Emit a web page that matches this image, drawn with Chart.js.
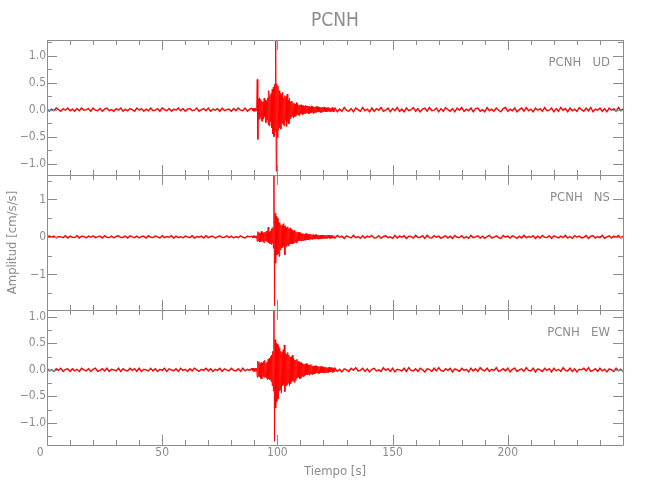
<!DOCTYPE html>
<html>
<head>
<meta charset="utf-8">
<title>PCNH</title>
<script src="https://cdn.jsdelivr.net/npm/chart.js@4/dist/chart.umd.min.js"></script>
<style>
  html, body { margin: 0; background: #fff; }
  canvas { display: block; }
</style>
</head>
<body>
<canvas id="chart" width="650" height="500"></canvas>
<script>
const station = 'PCNH';
const channels = ['UD', 'NS', 'EW'];

// sampling of the traces (s): 1 s outside the event window, 0.25 s inside it
const quietStep = 1;
const eventStep = 0.25;
const eventStart = 89;
const postStart = 125;

// amplitudes, in 1/100 cm/s/s
// UD
const udPre = [2,-3,1,-2,3,0,-3,2,-1,3, -2,1,-3,2,-2,3,-1,0,2,-3, 3,-1,-2,2,-3,1,3,-2,0,-3, 2,-1,3,-3,1,-2,2,0,-3,3,
  -1,2,-3,1,-2,3,-2,-1,2,-3, 3,0,-2,2,-3,1,-1,3,-2,2, -3,1,2,-2,-1,3,-3,0,2,-2, 3,-3,1,-1,2,-3,3,-2,0,1, -3,2,-2,3,-1,-2,3,-3,1];
const udEvent = [3,-2,2,-3, 2,-3,3,-2, 3,56,-55,20, -18,22,-15,19, -20,16,-22,14, -17,21,-13,18, -24,15,-19,22,
  -28,35,-30,26, -22,30,-33,38, -45,42,-50,47, -40,135,-114,48, -52,44,-38,35, -33,30,-36,28, -25,32,-28,22,
  -30,26,-20,24, -31,29,-22,18, -26,21,-17,15, -14,16,-12,13, -15,11,-13,10, -12,13,-9,11, -10,8,-11,9,
  -8,9,-7,8, -9,7,-8,6, -7,8,-6,7, -6,7,-8,6, -7,5,-6,7, -5,6,-7,5, -6,5,-5,6, -5,6,-4,5, -4,5,-5,4,
  -5,4,-4,5, -4,5,-3,4, -4,3,-4,4, -3,4,-3,3, -4,3,-3,4, -3,3,-4,3];
const udPost = [3,-4,1,-3,4,-1,-3,2,-4,3, 0,-3,4,-2,1,-4,3,-3,2,-1, 4,-3,-1,3,-4,2,-2,4,-3,1, -4,3,-2,0,4,-3,2,-4,1,3,
  -3,4,-2,-1,3,-4,2,-3,4,0, -3,2,-4,3,-1,4,-3,1,-2,3, -4,2,3,-3,0,-4,4,-2,1,-3, 3,-1,-4,2,4,-3,1,-2,3,-4,
  0,3,-3,4,-2,1,-4,3,-1,2, -3,4,-2,-1,3,-4,2,-3,4,-1, 2,-4,3,-2,1,-3,4,0,-3,3, -2,4,-4,1,-1,3,-3,2,-4,3, -1,2,-3,4,-2,1];
// NS
const nsPre = [-2,3,-1,2,-3,1,0,-2,3,-3, 2,-1,-2,3,-3,2,1,-3,2,-1, 3,-2,0,2,-3,3,-1,-2,2,-3, 1,3,-2,-1,2,-3,3,0,-2,2,
  -3,1,2,-3,3,-1,-2,2,0,-3, 3,-2,1,-1,3,-3,2,-2,1,-3, 2,0,-2,3,-3,1,-1,2,-3,3, -2,1,2,-3,0,3,-2,-1,3,-2, 2,-3,1,-2,3,-1,-3,2,0];
const nsEvent = [2,-3,3,-2, 3,-2,2,-3, 3,-12,14,-10, 12,-14,10,-13, 15,-11,13,-14, 11,-15,12,-10, 14,-12,16,-13,
  26,-15,13,-18, 16,-20,22,-17, 25,-30,166,-184, 63,-70,55,-48, 50,-45,40,-52, 38,-35,32,-30, 30,-28,35,-25,
  28,-48,30,-26, 25,-22,27,-24, 22,-20,24,-18, 20,-18,17,-19, 16,-15,18,-14, 14,-16,12,-13, 12,-11,13,-10,
  10,-11,9,-10, 9,-10,8,-9, 8,-9,9,-7, 7,-8,6,-8, 8,-6,7,-6, 6,-7,6,-5, 5,-6,6,-5, 6,-5,5,-6, 5,-5,4,-5,
  4,-5,5,-4, 5,-4,4,-4, 4,-4,5,-4, 4,-3,4,-4, 3,-4,4,-3, 4,-3,3,-4];
const nsPost = [-3,4,-1,2,-4,3,0,-3,4,-2, 1,-4,3,-3,2,-1,4,-3,-2,3, -4,1,3,-2,0,-4,4,-3,2,-1, 3,-4,2,1,-3,4,-2,-1,3,-4,
  4,-2,-3,3,-1,2,-4,0,3,-3, 2,-4,4,-1,-2,3,-3,1,-4,4, -2,0,3,-3,2,-4,1,4,-3,-1, 3,-2,-4,4,-1,2,-3,3,0,-4,
  2,-3,4,-2,1,-1,3,-4,2,-3, 4,-1,-2,3,-4,3,0,-3,2,-2, 4,-3,1,-4,3,-1,2,-3,-1,4, -4,2,3,-3,1,-2,4,-4,0,3, -3,2,-1,4,-3,2];
// EW
const ewPre = [3,-2,0,-3,2,-1,3,-3,1,2, -3,2,-2,1,-3,3,0,-2,2,-3, 1,3,-3,-1,2,-2,3,-3,1,0, -2,3,-3,2,-1,-2,3,-1,2,-3,
  3,-3,1,0,-2,3,-2,2,-3,1, -1,3,-3,2,0,-2,2,-3,3,-1, 1,-3,2,-2,3,0,-3,1,-1,3, -2,2,-3,1,-1,3,-3,2,0,-2, 3,-1,-2,2,-3,3,-2,1,-1];
const ewEvent = [3,-2,3,-3, 2,-3,3,-2, 3,-14,16,-12, 15,-13,12,-16, 14,-17,13,-12, 16,-14,18,-13, 12,-16,15,-18,
  20,-17,22,-19, 25,-22,28,-30, 35,-40,112,-135, 57,-72,50,-60, 48,-55,45,-40, 42,-38,35,-44, 33,-30,38,-28,
  47,-41,32,-30, 30,-28,33,-25, 28,-30,24,-26, 25,-22,27,-20, 22,-24,19,-21, 18,-16,20,-15, 16,-14,15,-17,
  13,-15,14,-12, 12,-13,11,-12, 11,-10,12,-9, 10,-9,9,-10, 9,-8,10,-8, 8,-9,7,-8, 7,-8,8,-6, 7,-6,7,-7,
  6,-7,6,-5, 6,-5,6,-6, 5,-6,5,-5, 5,-5,4,-5, 4,-5,5,-4, 4,-4,4,-5, 4,-4,3,-4];
const ewPost = [3,-3,1,-4,2,0,-3,3,-1,4, -2,-1,3,-3,2,-4,1,3,-2,0, -3,4,-1,2,-3,3,-4,1,0,-2, 3,-3,4,-1,-2,2,-3,3,0,-4,
  2,1,-3,3,-2,4,-1,-3,2,-1, 3,-4,2,0,-3,3,-1,1,-4,3, -2,2,-3,4,0,-2,3,-3,1,-1, 4,-3,-1,2,-2,3,-4,1,3,-3,
  0,2,-3,4,-1,-2,3,-4,2,0, -3,3,-1,2,-4,3,-2,1,-3,4, -1,-2,3,-3,2,-4,1,0,3,-2, 4,-3,-1,2,-3,3,-2,1,-4,2, 0,-3,3,-2,1,-3];

// tick labels
const xTicks = [0, 50, 100, 150, 200];
const udTicks = [-1, -0.5, 0, 0.5, 1];
const nsTicks = [-1, 0, 1];
const ewTicks = [-1, -0.5, 0, 0.5, 1];

const gray = '#8c8c8c';
const red = 'rgb(255,0,0)';
Chart.defaults.font.family = "'Liberation Sans Narrow', 'DejaVu Sans Condensed', sans-serif";
Chart.defaults.color = gray;

function trace(pre, ev, post) {
  const pts = [];
  pre.forEach((v, i) => pts.push({ x: i * quietStep, y: v / 100 }));
  ev.forEach((v, i) => pts.push({ x: eventStart + i * eventStep, y: v / 100 }));
  post.forEach((v, i) => pts.push({ x: postStart + i * quietStep, y: v / 100 }));
  return pts;
}

const minus = s => s.replace('-', '\u2212');
const panels = [
  { id: 'yUD', channel: channels[0], data: trace(udPre, udEvent, udPost), ticks: udTicks, min: -1.21, max: 1.29, step: 0.5, fmt: v => minus(v.toFixed(1)), weight: 3 },
  { id: 'yNS', channel: channels[1], data: trace(nsPre, nsEvent, nsPost), ticks: nsTicks, min: -1.95, max: 1.65, step: 1, fmt: v => minus(String(v)), weight: 2 },
  { id: 'yEW', channel: channels[2], data: trace(ewPre, ewEvent, ewPost), ticks: ewTicks, min: -1.42, max: 1.13, step: 0.5, fmt: v => minus(v.toFixed(1)), weight: 1 }
];

// frame, inward ticks and channel names for each panel
const framePlugin = {
  id: 'frame',
  afterDatasetsDraw(chart) {
    const { ctx, chartArea: a, scales } = chart;
    const xs = scales.x;
    ctx.save();
    ctx.strokeStyle = gray;
    ctx.lineWidth = 1;
    ctx.fillStyle = gray;
    ctx.font = "13px 'Liberation Sans Narrow', 'DejaVu Sans Condensed', sans-serif";
    ctx.textAlign = 'right';
    ctx.textBaseline = 'alphabetic';
    panels.forEach(p => {
      const s = scales[p.id];
      const top = Math.round(s.top), bot = Math.round(s.bottom);
      ctx.beginPath();
      ctx.rect(a.left + 0.5, top + 0.5, a.right - a.left, bot - top);
      for (let t = 0; t <= xs.max; t += 10) {
        const px = Math.round(xs.getPixelForValue(t)) + 0.5;
        const len = t % 50 === 0 ? 10 : 5;
        ctx.moveTo(px, top); ctx.lineTo(px, top + len);
        ctx.moveTo(px, bot); ctx.lineTo(px, bot - len);
      }
      const minor = p.step / 2;
      for (let k = Math.ceil(s.min / minor); k * minor <= s.max; k++) {
        const py = Math.round(s.getPixelForValue(k * minor)) + 0.5;
        const len = k % 2 === 0 ? 10 : 5;
        ctx.moveTo(a.left, py); ctx.lineTo(a.left + len, py);
        ctx.moveTo(a.right, py); ctx.lineTo(a.right - len, py);
      }
      ctx.stroke();
      ctx.fillText(station + '   ' + p.channel, a.right - 13, top + 26);
    });
    ctx.restore();
  }
};

const scales = {
  x: {
    type: 'linear', position: 'bottom', min: 0, max: 250,
    grid: { display: false, drawTicks: false }, border: { display: false },
    ticks: { font: { size: 12 }, padding: 1, maxRotation: 0, autoSkip: false,
      callback: v => v === 0 ? '0    ' : String(v) },
    afterBuildTicks: s => { s.ticks = xTicks.map(v => ({ value: v })); },
    afterFit: s => { s.height = 55; },
    title: { display: true, text: 'Tiempo [s]', font: { size: 13 }, padding: { top: 0, bottom: 21 } }
  }
};
panels.forEach(p => {
  scales[p.id] = {
    type: 'linear', position: 'left', stack: 'panels', stackWeight: 1, weight: p.weight,
    min: p.min, max: p.max,
    grid: { display: false, drawTicks: false }, border: { display: false },
    ticks: { font: { size: 12 }, padding: 1, autoSkip: false, callback: v => p.fmt(v) },
    afterBuildTicks: s => { s.ticks = p.ticks.map(v => ({ value: v })); },
    afterFit: s => { s.width = 47; },
    title: { display: p.id === 'yNS', text: 'Amplitud [cm/s/s]', font: { size: 13 }, padding: { top: 5, bottom: 0 } }
  };
});

// the quiet parts are a dense noise band, the event window is drawn thinner
const inEvent = ctx => ctx.p0.parsed.x >= eventStart && ctx.p1.parsed.x < postStart;

new Chart(document.getElementById('chart'), {
  type: 'line',
  data: {
    datasets: panels.map(p => ({
      label: station + ' ' + p.channel,
      data: p.data,
      yAxisID: p.id,
      borderColor: red,
      borderWidth: 1,
      segment: { borderWidth: ctx => inEvent(ctx) ? 1 : 1.4 },
      pointRadius: 0,
      tension: 0,
      fill: false
    }))
  },
  options: {
    responsive: false,
    devicePixelRatio: 1,
    animation: false,
    layout: { padding: { left: 0, right: 27, top: 0, bottom: 0 } },
    scales,
    plugins: {
      legend: { display: false },
      tooltip: { enabled: false },
      title: { display: true, text: station, fullSize: false, color: gray,
        font: { size: 19, weight: 'normal' }, padding: { top: 10, bottom: 7.2 } }
    }
  },
  plugins: [framePlugin]
});
</script>
</body>
</html>
